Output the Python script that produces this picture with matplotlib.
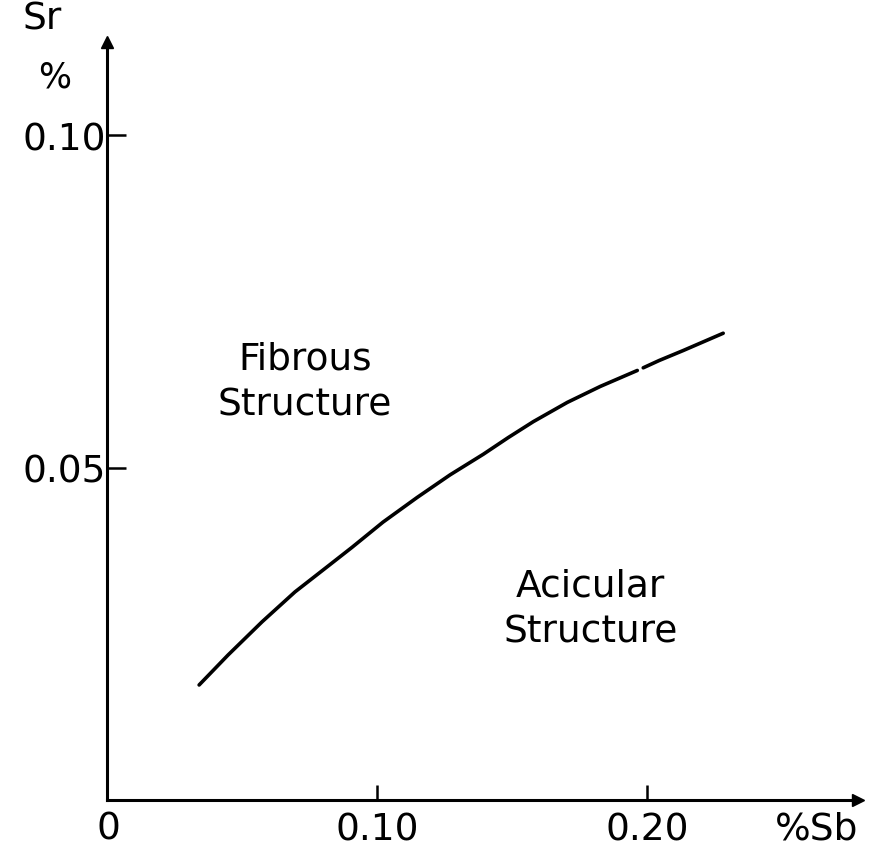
import matplotlib.pyplot as plt
import numpy as np

plt.rcParams['font.family'] = ['DejaVu Sans']

# boundary between fibrous and acicular structure
# the scanned line has a small break just below 0.20 % Sb
sb_low = [0.0341, 0.0448, 0.0574, 0.0696, 0.0819, 0.0907, 0.1022, 0.1148,
          0.1270, 0.1393, 0.1485, 0.1578, 0.1704, 0.1826, 0.1963]
sr_low = [0.0173, 0.0218, 0.0268, 0.0313, 0.0352, 0.0380, 0.0418, 0.0455,
          0.0489, 0.0520, 0.0545, 0.0569, 0.0598, 0.0622, 0.0646]
sb_high = [0.1985, 0.2044, 0.2133, 0.2281]
sr_high = [0.0650, 0.0661, 0.0676, 0.0702]

x_ticks = [0.10, 0.20]
y_ticks = [0.05, 0.10]

fig = plt.figure(figsize=(8.78, 8.54), dpi=100)
ax = fig.add_axes([107 / 878, 53 / 854, 751 / 878, 758 / 854])

ax.plot(sb_low, sr_low, color='black', lw=2.6, solid_capstyle='round')
ax.plot(sb_high, sr_high, color='black', lw=2.6, solid_capstyle='round')

ax.set_xlim(0, 0.278)
ax.set_ylim(0, 0.114)

for s in ['top', 'right']:
    ax.spines[s].set_visible(False)
for s in ['left', 'bottom']:
    ax.spines[s].set_linewidth(2.2)

# arrow heads on the axes
ax.plot(1, 0, '>k', ms=9, transform=ax.transAxes, clip_on=False)
ax.plot(0, 1, '^k', ms=9, transform=ax.transAxes, clip_on=False)

ax.set_xticks(x_ticks)
ax.set_xticklabels(['0.10', '0.20'])
ax.set_yticks(y_ticks)
ax.set_yticklabels(['0.05', '0.10'])
ax.tick_params(axis='x', direction='in', length=11, width=1.8, labelsize=27, pad=8)
ax.tick_params(axis='y', direction='in', length=14, width=1.8, labelsize=27, pad=1)

fig.text(108 / 878, 1 - 830 / 854, '0', ha='center', va='center', fontsize=27)
fig.text(817 / 878, 1 - 830 / 854, '%Sb', ha='center', va='center', fontsize=27)
fig.text(42 / 878, 1 - 20 / 854, 'Sr', ha='center', va='center', fontsize=27)
fig.text(55 / 878, 1 - 78 / 854, '%', ha='center', va='center', fontsize=25)

ax.text(0.0733, 0.0630, 'Fibrous\nStructure', ha='center', va='center',
        fontsize=27, linespacing=1.35)
ax.text(0.1789, 0.0288, 'Acicular\nStructure', ha='center', va='center',
        fontsize=27, linespacing=1.35)

fig.savefig('out.png', dpi=100, facecolor='white')
